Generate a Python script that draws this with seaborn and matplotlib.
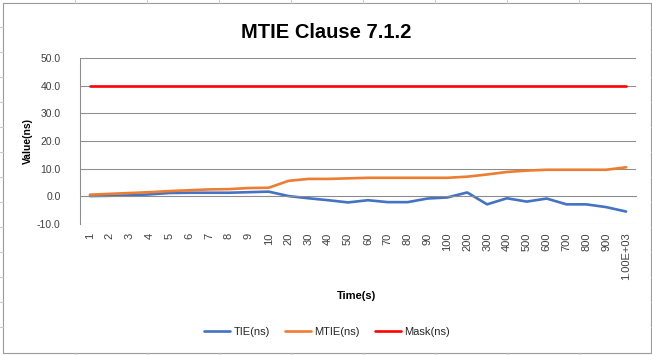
import matplotlib
matplotlib.use('Agg')
import matplotlib.pyplot as plt
import matplotlib.lines as mlines
import numpy as np
import pandas as pd
import seaborn as sns

# time axis categories (Excel category axis)
times = ['1', '2', '3', '4', '5', '6', '7', '8', '9', '10',
         '20', '30', '40', '50', '60', '70', '80', '90', '100',
         '200', '300', '400', '500', '600', '700', '800', '900', '1.00E+03']
tie = [0.1, 0.2, 0.35, 0.7, 1.2, 1.3, 1.3, 1.3, 1.5, 1.7,
       0.1, -0.7, -1.4, -2.2, -1.4, -2.1, -2.1, -0.8, -0.4,
       1.4, -2.9, -0.7, -1.9, -0.8, -2.9, -2.9, -3.9, -5.5]
mtie = [0.6, 0.9, 1.2, 1.5, 1.9, 2.2, 2.5, 2.6, 3.0, 3.1,
        5.6, 6.3, 6.3, 6.5, 6.7, 6.7, 6.7, 6.7, 6.7,
        7.1, 7.9, 8.8, 9.3, 9.6, 9.6, 9.6, 9.6, 10.5]
mask = [40.0, 40.0, 40.0, 40.0, 40.0, 40.0, 40.0, 40.0, 40.0, 40.0,
        40.0, 40.0, 40.0, 40.0, 40.0, 40.0, 40.0, 40.0, 40.0,
        40.0, 40.0, 40.0, 40.0, 40.0, 40.0, 40.0, 40.0, 40.0]
series_names = ['TIE(ns)', 'MTIE(ns)', 'Mask(ns)']
yticks = [-10, 0, 10, 20, 30, 40, 50]

colors = ['#4472C4', '#ED7D31', '#FF0000']
grid_col = '#8c8c8c'

sns.set_style('white')
plt.rcParams['font.family'] = ['Liberation Sans', 'DejaVu Sans']

idx = np.arange(len(times))
df = pd.concat([
    pd.DataFrame({'t': idx, 'value': vals, 'series': name})
    for name, vals in zip(series_names, [tie, mtie, mask])
])

W, H = 652, 355
fig = plt.figure(figsize=(W / 100, H / 100), dpi=100)
ax = fig.add_axes([80 / W, 1 - 224 / H, 556 / W, 166 / H])

sns.lineplot(data=df, x='t', y='value', hue='series', hue_order=series_names,
             palette=colors, linewidth=1.9, sort=False, legend=False, ax=ax)

ax.set_xlim(-0.5, len(times) - 0.5)
ax.set_ylim(-10, 50)
ax.set_xlabel('')
ax.set_ylabel('')

# y axis
ax.set_yticks(yticks)
ax.set_yticklabels(['{:.1f}'.format(v) for v in yticks], fontsize=7.5, color='#404040')
ax.tick_params(axis='y', length=3, width=0.75, color=grid_col, pad=11, direction='out')
ax.yaxis.grid(True, color=grid_col, linewidth=0.75)
ax.set_axisbelow(True)

# x axis crosses at 0, labels sit low
ax.spines['bottom'].set_position(('data', 0))
ax.set_xticks(idx)
ax.set_xticklabels(times, rotation=90, fontsize=8, color='#404040')
ax.tick_params(axis='x', which='major', length=0, pad=26)
ax.set_xticks(np.arange(-0.5, len(times), 1), minor=True)
ax.tick_params(axis='x', which='minor', length=3, width=0.75, color=grid_col, direction='out')

for s in ['top', 'right']:
    ax.spines[s].set_visible(False)
for s in ['left', 'bottom']:
    ax.spines[s].set_color(grid_col)
    ax.spines[s].set_linewidth(0.75)

fig.text(326 / W, 1 - 32 / H, 'MTIE Clause 7.1.2', ha='center', va='center',
         fontsize=14.5, fontweight='bold', color='#000000')
fig.text(28 / W, 1 - 141 / H, 'Value(ns)', ha='center', va='center', rotation=90,
         fontsize=7.5, fontweight='bold', color='#000000')
fig.text(357 / W, 1 - 296 / H, 'Time(s)', ha='center', va='center',
         fontsize=8, fontweight='bold', color='#000000')

handles = [mlines.Line2D([], [], color=c, linewidth=1.9) for c in colors]
fig.legend(handles, series_names, loc='center', bbox_to_anchor=(327 / W, 1 - 332 / H),
           ncol=3, frameon=False, fontsize=8, handlelength=2.4, handletextpad=0.3,
           columnspacing=1.3)

# spreadsheet chart frame and cell edges around it
def px_line(x0, y0, x1, y1, col='#9a9a9a', lw=0.8):
    fig.add_artist(mlines.Line2D([x0 / W, x1 / W], [1 - y0 / H, 1 - y1 / H],
                                 color=col, linewidth=lw))

px_line(2.5, 2.5, 650.5, 2.5)
px_line(2.5, 352.5, 650.5, 352.5)
px_line(2.5, 2.5, 2.5, 352.5)
px_line(650.5, 2.5, 650.5, 352.5)
for cx in [75, 147, 219, 291, 363, 435, 507, 579]:
    px_line(cx, 0, cx, 2.5, col='#c8c8c8')
    px_line(cx, 352.5, cx, 355, col='#c8c8c8')
for ry in range(27, 352, 25):
    px_line(0, ry, 2.5, ry, col='#c8c8c8')
    px_line(650.5, ry, 652, ry, col='#c8c8c8')

fig.savefig('out.png', dpi=100)
plt.close(fig)
